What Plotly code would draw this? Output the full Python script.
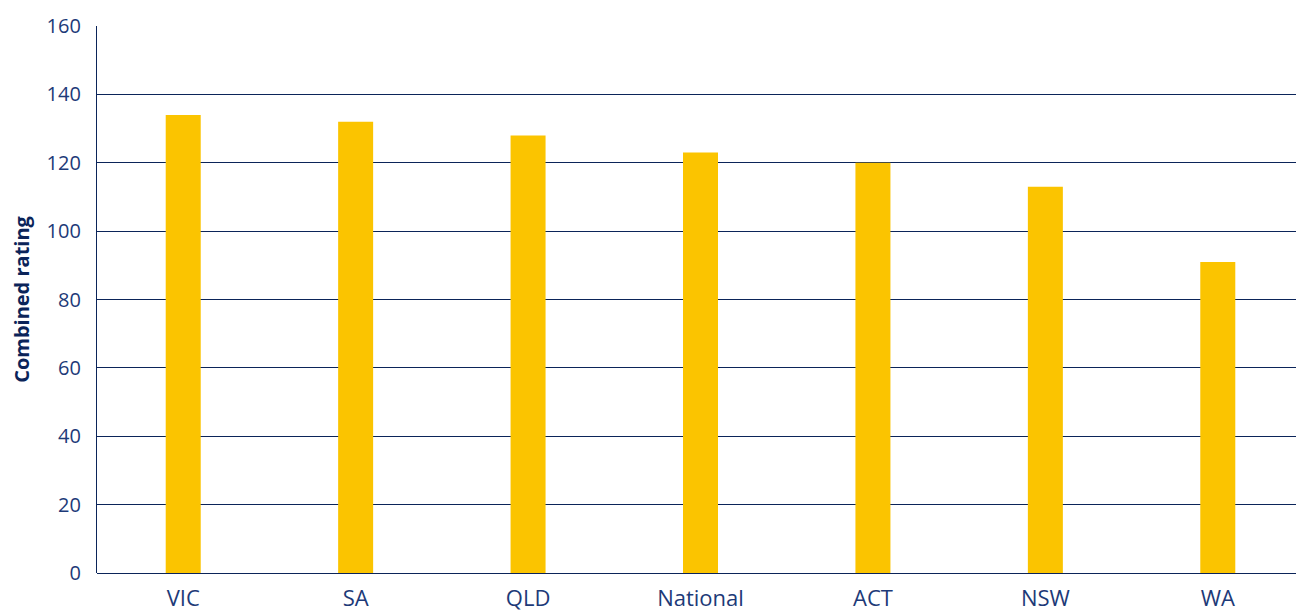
import plotly.graph_objects as go

states = ["VIC", "SA", "QLD", "National", "ACT", "NSW", "WA"]
rating = [134, 132, 128, 123, 120, 113, 91]
y_ticks = [0, 20, 40, 60, 80, 100, 120, 140, 160]

NAVY = "#0b2459"
TEXT = "#1d3a78"

# the page body keeps an 8px margin, so the figure is sized to fit inside it
fig = go.Figure(
    go.Bar(
        x=states,
        y=rating,
        marker=dict(color="#fbc400", line=dict(width=0)),
    )
)

fig.update_layout(
    width=1296,
    height=604,
    margin=dict(l=89, r=0, t=18, b=39),
    plot_bgcolor="white",
    paper_bgcolor="white",
    bargap=0.797,
    showlegend=False,
    font=dict(family="Open Sans", color=TEXT, size=18),
)

fig.update_xaxes(
    showgrid=False,
    showline=False,
    ticks="",
    tickfont=dict(size=22, color=TEXT),
    ticklabelstandoff=10,
)

fig.update_yaxes(
    range=[0, 160],
    tickvals=y_ticks,
    showgrid=True,
    gridcolor=NAVY,
    gridwidth=1.3,
    showline=True,
    linecolor=NAVY,
    linewidth=1.3,
    zeroline=True,
    zerolinecolor=NAVY,
    zerolinewidth=1.3,
    ticks="",
    ticklabelstandoff=11,
    tickfont=dict(size=20, color=TEXT),
    title=dict(
        text="<b>Combined rating</b>",
        font=dict(size=20, color=NAVY),
        standoff=14,
    ),
)

fig.write_html("out.html")
